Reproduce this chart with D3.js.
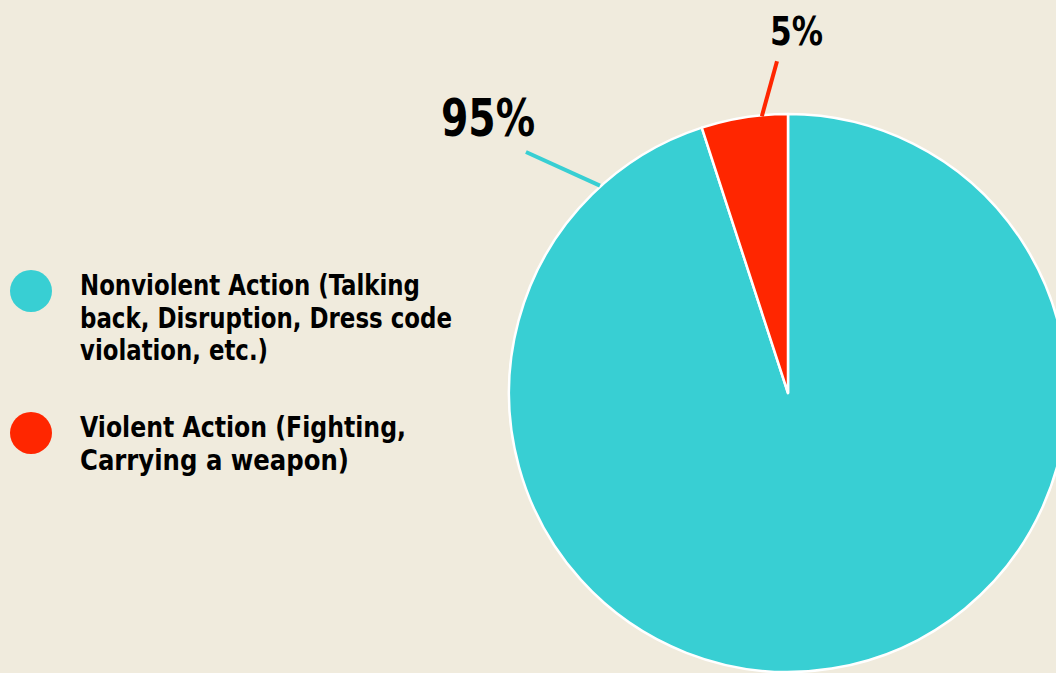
<!DOCTYPE html>
<html>
<head>
<meta charset="utf-8">
<script src="https://cdn.jsdelivr.net/npm/d3@7"></script>
<style>
  html, body { margin: 0; padding: 0; background: #f0ebdd; overflow: hidden; }
  svg { display: block; }
</style>
</head>
<body>
<svg id="chart" width="1056" height="673"></svg>
<script>
// ---- data ----
const categories = ["Nonviolent Action", "Violent Action"];
const values = [95, 5];
const valueLabels = ["95%", "5%"];
const legendLines = [
  ["Nonviolent Action (Talking", "back, Disruption, Dress code", "violation, etc.)"],
  ["Violent Action (Fighting,", "Carrying a weapon)"]
];
const colors = ["#38cfd3", "#ff2600"];

// ---- layout ----
const W = 1056, H = 673;
const cx = 788, cy = 393, R = 279;
const font = "'Liberation Sans Narrow', 'DejaVu Sans Condensed', sans-serif";

const svg = d3.select("#chart");
svg.append("rect").attr("width", W).attr("height", H).attr("fill", "#f0ebdd");

const color = d3.scaleOrdinal().domain(categories).range(colors);

const pie = d3.pie().sort(null).value(d => d.value);
const data = categories.map((c, i) => ({ cat: c, value: values[i], label: valueLabels[i] }));
const arcs = pie(data);
const arc = d3.arc().innerRadius(0).outerRadius(R);

const g = svg.append("g").attr("transform", `translate(${cx},${cy})`);
g.selectAll("path.slice").data(arcs).join("path")
  .attr("class", "slice")
  .attr("d", arc)
  .attr("fill", d => color(d.data.cat))
  .attr("stroke", "#ffffff")
  .attr("stroke-width", 2.5)
  .attr("stroke-linejoin", "round");

// leader lines & value labels (angles relative to the slice boundaries)
const polar = (a, r) => [r * Math.sin(a), -r * Math.cos(a)];
const deg = Math.PI / 180;
const leaderSpec = [
  { a1: -42.2 * deg, r1: R + 1, a2: -47.4 * deg, r2: R + 77, lx: -347, ly: -257, fs: 52, tl: 94 },
  { a1: -5.4 * deg, r1: R - 1, a2: -1.9 * deg, r2: R + 53, lx: -18, ly: -348, fs: 39, tl: 53 }
];
arcs.forEach((d, i) => {
  const s = leaderSpec[i];
  const p1 = polar(s.a1, s.r1), p2 = polar(s.a2, s.r2);
  g.append("line")
    .attr("x1", p1[0]).attr("y1", p1[1])
    .attr("x2", p2[0]).attr("y2", p2[1])
    .attr("stroke", color(d.data.cat))
    .attr("stroke-width", 4);
  g.append("text")
    .attr("x", s.lx).attr("y", s.ly)
    .attr("font-family", font).attr("font-weight", "bold")
    .attr("font-size", s.fs)
    .attr("textLength", s.tl).attr("lengthAdjust", "spacingAndGlyphs")
    .attr("fill", "#000")
    .text(d.data.label);
});

// legend
const legendTop = [295, 437];
const lineWidths = [[340, 372, 188], [326, 269]];
const legend = svg.append("g");
categories.forEach((c, i) => {
  legend.append("circle")
    .attr("cx", 31).attr("cy", legendTop[i] - 4)
    .attr("r", 21)
    .attr("fill", color(c));
  legendLines[i].forEach((ln, j) => {
    legend.append("text")
      .attr("x", 80).attr("y", legendTop[i] + j * 32.5)
      .attr("font-family", font).attr("font-weight", "bold")
      .attr("font-size", 28)
      .attr("textLength", lineWidths[i][j]).attr("lengthAdjust", "spacingAndGlyphs")
      .attr("fill", "#000")
      .text(ln);
  });
});
</script>
</body>
</html>
